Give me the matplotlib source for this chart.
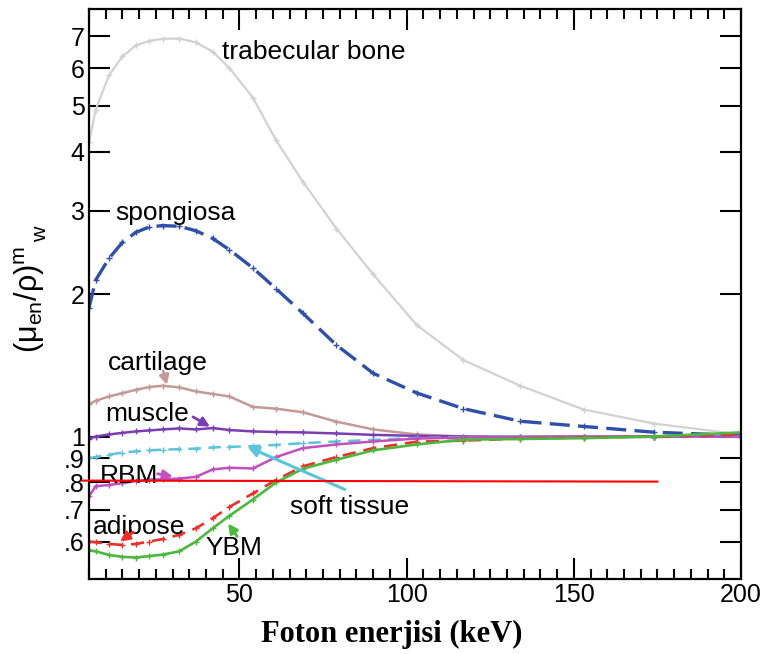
import matplotlib
matplotlib.use("Agg")
import matplotlib.pyplot as plt
from matplotlib.ticker import MultipleLocator, NullLocator
from matplotlib.patches import Rectangle

plt.rcParams['font.family'] = ['Liberation Sans', 'DejaVu Sans']
plt.rcParams['mathtext.fontset'] = 'custom'
plt.rcParams['mathtext.rm'] = 'Liberation Sans'
plt.rcParams['mathtext.it'] = 'Liberation Sans:italic'

# photon energies (keV)
energy = [5, 7, 11, 15, 19, 23, 27, 32, 37, 42, 47, 54, 61, 69, 79, 90, 103, 117, 134, 153, 174, 200]

trabecular = [4.18, 4.9, 5.8, 6.35, 6.7, 6.85, 6.92, 6.93, 6.8, 6.5, 6.0, 5.2, 4.22, 3.45, 2.75, 2.2,
              1.72, 1.45, 1.28, 1.14, 1.065, 1.01]
spongiosa = [1.87, 2.14, 2.38, 2.57, 2.70, 2.77, 2.79, 2.78, 2.72, 2.62, 2.48, 2.27, 2.05, 1.82, 1.56, 1.36,
             1.236, 1.145, 1.077, 1.05, 1.021, 1.005]
cartilage = [1.17, 1.19, 1.215, 1.235, 1.255, 1.272, 1.28, 1.27, 1.245, 1.23, 1.215, 1.155, 1.145, 1.125,
             1.075, 1.035, 1.01, 1.0, 0.998, 0.998, 1.0, 1.0]
muscle = [0.99, 1.0, 1.01, 1.018, 1.025, 1.03, 1.035, 1.04, 1.035, 1.042, 1.032, 1.025, 1.022, 1.02,
          1.015, 1.008, 1.003, 1.0, 0.998, 0.998, 0.998, 1.0]
soft_tissue = [0.90, 0.905, 0.915, 0.925, 0.93, 0.935, 0.938, 0.94, 0.943, 0.948, 0.951, 0.954, 0.96,
               0.968, 0.976, 0.984, 0.993, 0.997, 0.999, 1.0, 1.0, 1.0]
rbm = [0.748, 0.785, 0.79, 0.797, 0.805, 0.811, 0.812, 0.815, 0.822, 0.852, 0.859, 0.856, 0.905, 0.945,
       0.962, 0.976, 0.99, 0.995, 0.998, 1.0, 1.0, 1.0]
adipose = [0.60, 0.598, 0.593, 0.590, 0.593, 0.60, 0.607, 0.62, 0.64, 0.672, 0.71, 0.758, 0.81, 0.865,
           0.905, 0.945, 0.975, 0.98, 0.99, 0.995, 1.0, 1.01]
ybm = [0.575, 0.572, 0.562, 0.557, 0.555, 0.559, 0.563, 0.572, 0.60, 0.64, 0.68, 0.736, 0.80, 0.855,
       0.893, 0.935, 0.962, 0.985, 0.988, 0.992, 1.0, 1.02]

yticks = [.6, .7, .8, .9, 1, 2, 3, 4, 5, 6, 7]
ytick_labels = ['.6', '.7', '.8', '.9', '1', '2', '3', '4', '5', '6', '7']
xticks = [50, 100, 150, 200]

fig = plt.figure(figsize=(7.68, 6.54), dpi=100)
ax = fig.add_axes([89 / 768, 1 - 579 / 654, 652 / 768, 570 / 654])

mk = dict(marker='+', markersize=5, markeredgewidth=1.0)
ax.plot(energy, trabecular, color='#d2d2d2', lw=1.6, **mk)
ax.plot(energy, spongiosa, color='#2f4fa8', lw=2.4, dashes=(6, 2.5), **mk)
ax.plot(energy, cartilage, color='#c39a98', lw=1.8, **mk)
ax.plot(energy, muscle, color='#7b3db3', lw=1.8, **mk)
ax.plot(energy, soft_tissue, color='#5cc4da', lw=1.8, dashes=(5, 3), **mk)
ax.plot(energy, rbm, color='#c04fc0', lw=1.8, **mk)
ax.plot(energy, adipose, color='#e8312a', lw=1.9, dashes=(5, 3), **mk)
ax.plot(energy, ybm, color='#4cb83e', lw=1.9, **mk)

# hand-drawn reference line
ax.plot([2.9, 175], [0.807, 0.803], color='red', lw=1.5, clip_on=False, zorder=5)

ax.set_yscale('log')
ax.set_xlim(5, 200)
ax.set_ylim(0.5, 8)
ax.set_yticks(yticks)
ax.set_yticklabels(ytick_labels)
ax.yaxis.set_minor_locator(NullLocator())
ax.set_xticks(xticks)
ax.xaxis.set_minor_locator(MultipleLocator(5))
ax.tick_params(which='both', direction='in', top=True, right=True, labelsize=18, width=1.5)
ax.tick_params(which='major', length=15, pad=3)
ax.tick_params(which='minor', length=7)
for s in ax.spines.values():
    s.set_linewidth(1.6)

ax.set_ylabel(r'$\mathrm{(μ_{en}/ρ)^{m}_{\quad\;w}}$', fontsize=22)
ax.yaxis.set_label_coords(-0.062, 0.51)

fs = 19
ax.text(44.8, 6.5, 'trabecular bone', fontsize=fs, va='center', ha='left')
ax.text(12.8, 2.97, 'spongiosa', fontsize=fs, va='center', ha='left')


def arrow(head, tail, color, lw=2, size=14):
    ax.annotate('', xy=head, xytext=tail,
                arrowprops=dict(arrowstyle='-|>', color=color, lw=lw, mutation_scale=size,
                                shrinkA=0, shrinkB=0))


ax.text(10.7, 1.43, 'cartilage', fontsize=fs, va='center', ha='left')
arrow((28.3, 1.285), (27.2, 1.375), '#c39a98')
ax.text(9.8, 1.113, 'muscle', fontsize=fs, va='center', ha='left')
arrow((41.2, 1.049), (36.1, 1.10), '#7b3db3')
ax.text(8.3, 0.827, 'RBM', fontsize=fs, va='center', ha='left')
arrow((30.1, 0.823), (25.5, 0.834), '#c04fc0')
ax.text(6.2, 0.645, 'adipose', fontsize=fs, va='center', ha='left')
arrow((14.3, 0.60), (18.2, 0.628), '#e8312a')
ax.text(39.7, 0.58, 'YBM', fontsize=fs, va='center', ha='left')
arrow((46.6, 0.655), (49.3, 0.615), '#4cb83e')
ax.text(65.1, 0.711, 'soft tissue', fontsize=fs, va='center', ha='left')
arrow((52.3, 0.952), (81.5, 0.773), '#5cc4da', lw=2.2, size=16)

# caption band pasted over the bottom of the tick labels
fig.patches.append(Rectangle((0, 0), 1, 1 - 603 / 654, transform=fig.transFigure,
                             facecolor='white', edgecolor='none', zorder=10))
fig.text(392 / 768, 1 - 634 / 654, 'Foton enerjisi (keV)', fontsize=22, fontweight='bold',
         family='Liberation Serif', ha='center', va='center', zorder=11)

fig.savefig('out.png', dpi=100)
